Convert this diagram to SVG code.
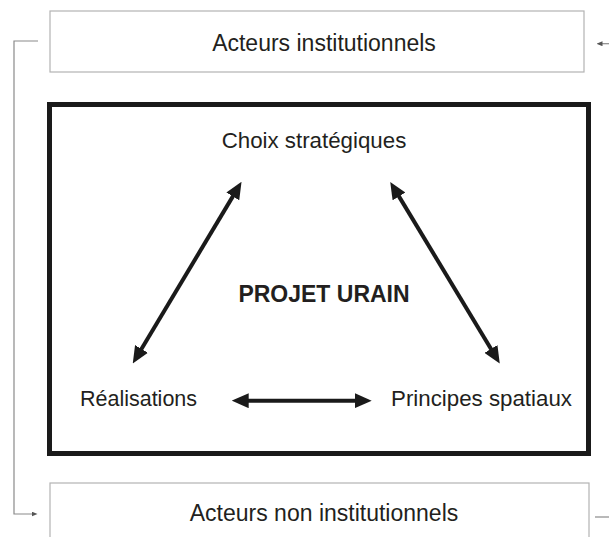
<svg xmlns="http://www.w3.org/2000/svg" width="609" height="537" viewBox="0 0 609 537">
<defs>
<style>
.box{fill:#fff;stroke:#b3b3b3;stroke-width:1.2}
.main{fill:none;stroke:#1a1a1a;stroke-width:5}
.lbl{font-family:"Liberation Sans",Arial,sans-serif;fill:#231f20;text-anchor:middle}
.outer{font-size:23px}
.inner{font-size:22.3px}
.title{font-size:23px;font-weight:bold}
.thin{fill:none;stroke:#8a8a8a;stroke-width:1.2}
.thick{fill:none;stroke:#1a1a1a;stroke-width:4}
</style>
<marker id="big" markerUnits="userSpaceOnUse" viewBox="0 0 17 15" markerWidth="17" markerHeight="15" refX="1" refY="7.5" orient="auto-start-reverse">
<path d="M0,0 L17,7.5 L0,15 z" fill="#1a1a1a"/>
</marker>
<marker id="small" markerUnits="userSpaceOnUse" viewBox="0 0 6 5" markerWidth="6" markerHeight="5" refX="0.5" refY="2.5" orient="auto">
<path d="M0,0 L6,2.5 L0,5 z" fill="#555"/>
</marker>
</defs>
<rect width="609" height="537" fill="#fff"/>
<g id="acteurs-institutionnels">
<rect class="box" x="50" y="11" width="534" height="61"/>
<text class="lbl outer" x="324" y="51">Acteurs institutionnels</text>
</g>
<g id="projet-urbain">
<rect class="main" x="49.5" y="104.5" width="539" height="349"/>
<text class="lbl title" x="324" y="302">PROJET URAIN</text>
</g>
<g id="choix-strategiques">
<text class="lbl inner" x="314" y="148">Choix stratégiques</text>
</g>
<g id="realisations">
<text class="lbl inner" style="font-size:21.5px" x="138.5" y="406">Réalisations</text>
</g>
<g id="principes-spatiaux">
<text class="lbl inner" x="481.5" y="406">Principes spatiaux</text>
</g>
<g id="acteurs-non-institutionnels">
<rect class="box" x="50" y="483" width="539" height="70"/>
<text class="lbl outer" x="324" y="521">Acteurs non institutionnels</text>
</g>
<g id="connectors">
<polyline class="thin" points="38,41 14,41 14,514 32,514" marker-end="url(#small)"/>
<line class="thin" x1="609" y1="43.7" x2="602" y2="43.7" marker-end="url(#small)"/>
<line class="thin" x1="595" y1="517" x2="609" y2="517"/>
<line class="thick" x1="233.3" y1="195.6" x2="141" y2="349.8" marker-start="url(#big)" marker-end="url(#big)"/>
<line class="thick" x1="398.5" y1="195.6" x2="491.5" y2="349.8" marker-start="url(#big)" marker-end="url(#big)"/>
<line class="thick" x1="247.7" y1="400.7" x2="355.7" y2="400.7" marker-start="url(#big)" marker-end="url(#big)"/>
</g>
</svg>
